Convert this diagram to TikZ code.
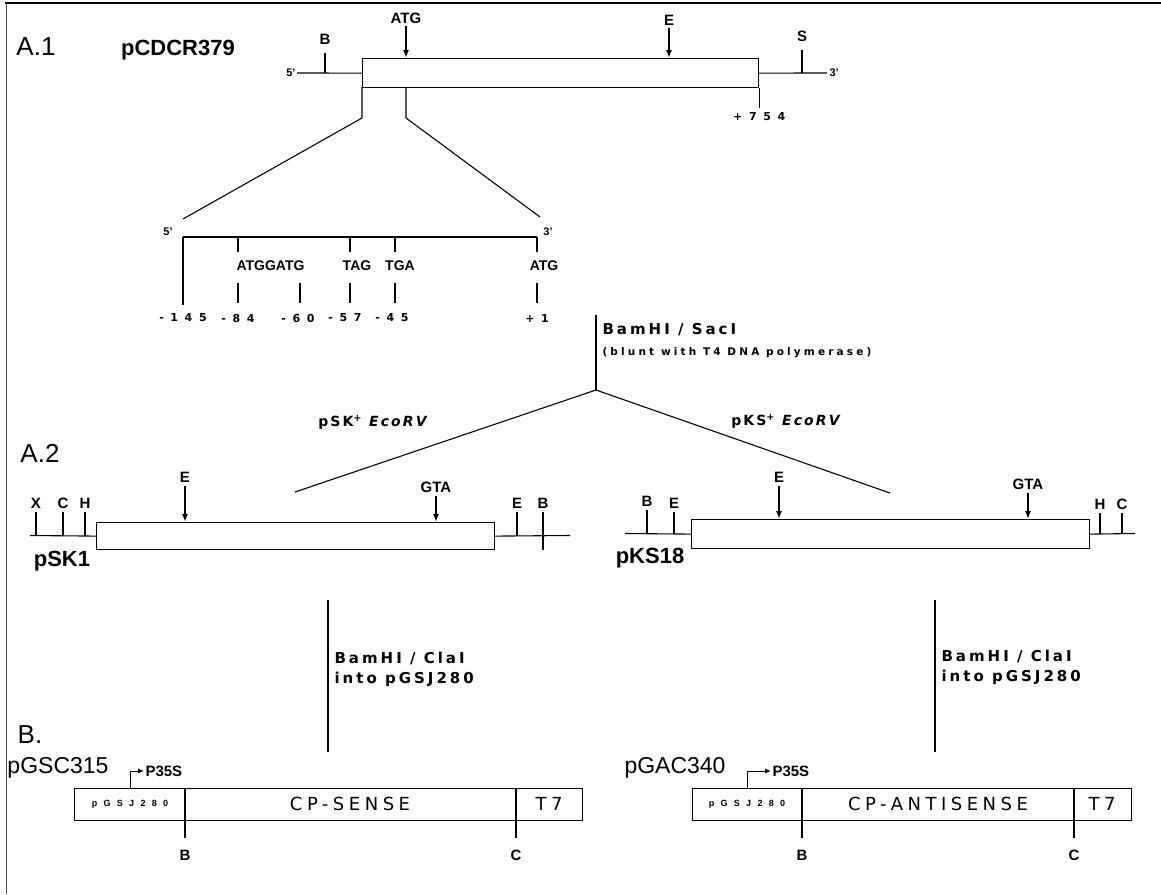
\documentclass[tikz,border=0pt]{standalone}
\usepackage{fontspec}
\setmainfont{Liberation Sans}
\newfontfamily\vecsans[LetterSpace=15]{DejaVu Sans}
\newfontfamily\enzsans[LetterSpace=20]{DejaVu Sans}
\newfontfamily\bluntsans[LetterSpace=30]{DejaVu Sans}
\newfontfamily\partsans[LetterSpace=25]{DejaVu Sans}
\newfontfamily\numsans[LetterSpace=60]{DejaVu Sans}
\newfontfamily\vwidesans[LetterSpace=70]{Liberation Sans}
\usetikzlibrary{arrows.meta,positioning}

\begin{document}
\begin{tikzpicture}[x=1pt, y=-1pt, line width=1.1pt,
  sect/.style={font=\fontsize{26}{28}\selectfont, inner sep=0pt},
  plas/.style={font=\bfseries\fontsize{22}{24}\selectfont, inner sep=0pt},
  plasr/.style={font=\fontsize{23}{25}\selectfont, inner sep=0pt},
  site/.style={font=\bfseries\fontsize{15}{17}\selectfont, inner sep=0pt},
  seq/.style={font=\bfseries\fontsize{14}{16}\selectfont, inner sep=0pt},
  endlbl/.style={font=\bfseries\fontsize{11}{13}\selectfont, inner sep=0pt},
  posn/.style={font=\numsans\bfseries\fontsize{11}{13}\selectfont, inner sep=0pt},
  enz/.style={font=\enzsans\bfseries\fontsize{15}{17}\selectfont, inner sep=0pt, anchor=west},
  vec/.style={font=\vecsans\bfseries\fontsize{14}{16}\selectfont, inner sep=0pt},
  gene/.style={draw, line width=1.2pt, inner sep=0pt, anchor=north west},
  part/.style={font=\partsans\fontsize{18}{20}\selectfont, inner sep=0pt},
  tiny/.style={font=\vwidesans\bfseries\fontsize{9}{11}\selectfont, inner sep=0pt},
  cut/.style={-{Latex[length=8pt,width=6pt]}, line width=2pt},
  prom/.style={-{Latex[length=6pt,width=5pt]}, line width=1pt}]
\useasboundingbox (0,0) rectangle (1161,894);
\draw[line width=1.6pt] (5,3) -- (1161,3);
\draw[line width=0.8pt, black!70] (6,3) -- (6,894);

% A.1 pCDCR379
\node[sect] (secA1) at (36,47) {A.1};
\node[plas] (pcdcr) at (178,50) {pCDCR379};
\node[gene, minimum width=396pt, minimum height=29pt] (cdcr) at (362,58) {};
\draw (cdcr.west) -- (297,73) node[endlbl, left=1pt] (cdcr5) {5'};
\draw (cdcr.east) -- (827,73) node[endlbl, right=2pt] (cdcr3) {3'};
\draw (325,73) -- (325,53) node[site, above=8pt] (cB) {B};
\draw (802,73) -- (802,50) node[site, above=8pt] (cS) {S};
\node[site] (cATG) at (406,18) {ATG};
\draw[cut] ([yshift=-2pt]cATG.south) -- (cATG |- cdcr.north);
\node[site] (cE) at (669,20) {E};
\draw[cut] ([yshift=-2pt]cE.south) -- (cE |- cdcr.north);
\draw (cdcr.south east) -- ++(0,20) node[posn, below=4pt] (c754) {+754};
\draw (362,87) -- (362,118) -- (183,219);
\draw (406,87) -- (406,118) -- (540,217);

\node[endlbl] (lead5) at (168,232) {5'};
\node[endlbl] (lead3) at (548,232) {3'};
\draw (183,237) -- (537,237);
\draw (183,237) -- (183,305);
\draw (238,237) -- (238,252);
\draw (350,237) -- (350,252);
\draw (395,237) -- (395,252);
\draw (537,237) -- (537,252);
\node[seq, anchor=west] (tATGG) at (236,266) {ATGGATG};
\node[seq] (tTAG) at (357,266) {TAG};
\node[seq] (tTGA) at (400,266) {TGA};
\node[seq] (tATG) at (544,266) {ATG};
\draw (238,283) -- (238,303);
\draw (300,283) -- (300,303);
\draw (350,283) -- (350,303);
\draw (395,283) -- (395,303);
\draw (537,283) -- (537,303);
\node[posn] (n145) at (183,318) {-145};
\node[posn] (n84) at (238,318) {-84};
\node[posn] (n60) at (298,318) {-60};
\node[posn] (n57) at (345,318) {-57};
\node[posn] (n45) at (392,318) {-45};
\node[posn] (n1) at (537,318) {+1};

\coordinate (fork) at (596,390);
\draw (596,315) -- (fork);
\node[enz] (bamsac) at (602,330) {BamHI / SacI};
\node[enz, font=\bluntsans\bfseries\fontsize{10.5}{12}\selectfont] (blunt) at (602,353) {(blunt with T4 DNA polymerase)};
\draw (fork) -- (295,492);
\draw (fork) -- (890,493);
\node[vec] (vsk) at (374,422) {pSK\textsuperscript{+} \textit{EcoRV}};
\node[vec] (vks) at (787,421) {pKS\textsuperscript{+} \textit{EcoRV}};

% A.2 pSK1 / pKS18
\node[sect] (secA2) at (40,453) {A.2};
\node[gene, minimum width=398pt, minimum height=27pt] (sk1) at (96,522) {};
\draw (sk1.west) -- (30,535.5);
\draw (sk1.east) -- (570,535.5);
\draw (36,536) -- (36,512) node[site, above=3pt] (skX) {X};
\draw (63,536) -- (63,512) node[site, above=3pt] (skC) {C};
\draw (85,536) -- (85,512) node[site, above=3pt] (skH) {H};
\draw (517,536) -- (517,512) node[site, above=3pt] (skE2) {E};
\draw (543,550) -- (543,512) node[site, above=3pt] (skB) {B};
\node[site] (skE) at (185,477) {E};
\draw[cut] ([yshift=-3pt]skE.south) -- (skE |- sk1.north);
\node[site] (skGTA) at (436,487) {GTA};
\draw[cut] ([yshift=-3pt]skGTA.south) -- (skGTA |- sk1.north);
\node[plas] (psk1) at (62,561) {pSK1};

\node[gene, minimum width=398pt, minimum height=29pt] (ks18) at (691,519) {};
\draw (ks18.west) -- (625,533.5);
\draw (ks18.east) -- (1135,533.5);
\draw (647,534) -- (647,510) node[site, above=3pt] (ksB) {B};
\draw (674,534) -- (674,512) node[site, above=3pt] (ksE2) {E};
\draw (1100,534) -- (1100,513) node[site, above=3pt] (ksH) {H};
\draw (1122,534) -- (1122,513) node[site, above=3pt] (ksC) {C};
\node[site] (ksE) at (779,477) {E};
\draw[cut] ([yshift=-3pt]ksE.south) -- (ksE |- ks18.north);
\node[site] (ksGTA) at (1028,484) {GTA};
\draw[cut] ([yshift=-3pt]ksGTA.south) -- (ksGTA |- ks18.north);
\node[plas] (pks18) at (650,558) {pKS18};

\draw (328,600) -- (328,752);
\node[enz] (bc1) at (334,658) {BamHI / ClaI};
\node[enz] (bc1b) at (334,679) {into pGSJ280};
\draw (935,600) -- (935,752);
\node[enz] (bc2) at (941,656) {BamHI / ClaI};
\node[enz] (bc2b) at (941,677) {into pGSJ280};

% B. sense / antisense constructs
\node[sect] (secB) at (30,735) {B.};
\node[gene, minimum width=508pt, minimum height=32pt] (gsc) at (74,788) {};
\draw (185,788) -- (185,838);
\draw (516,788) -- (516,838);
\node[tiny] (gscv) at (130,804) {pGSJ280};
\node[part] (sense) at (350,804) {CP-SENSE};
\node[part] (gsct7) at (549,804) {T7};
\node[site] (gscB) at (185,855) {B};
\node[site] (gscC) at (516,855) {C};
\draw[prom] (130,788) -- (130,771) -- (144,771) node[site, anchor=west, right=1pt] (gscp) {P35S};
\node[plasr] (pgsc) at (58,768) {pGSC315};

\node[gene, minimum width=439pt, minimum height=32pt] (gac) at (692,788) {};
\draw (802,788) -- (802,838);
\draw (1074,788) -- (1074,838);
\node[tiny] (gacv) at (747,804) {pGSJ280};
\node[part] (anti) at (938,804) {CP-ANTISENSE};
\node[part] (gact7) at (1102,804) {T7};
\node[site] (gacB) at (802,855) {B};
\node[site] (gacC) at (1074,855) {C};
\draw[prom] (747,788) -- (747,771) -- (771,771) node[site, anchor=west, right=1pt] (gacp) {P35S};
\node[plasr] (pgac) at (675,768) {pGAC340};
\end{tikzpicture}
\end{document}
